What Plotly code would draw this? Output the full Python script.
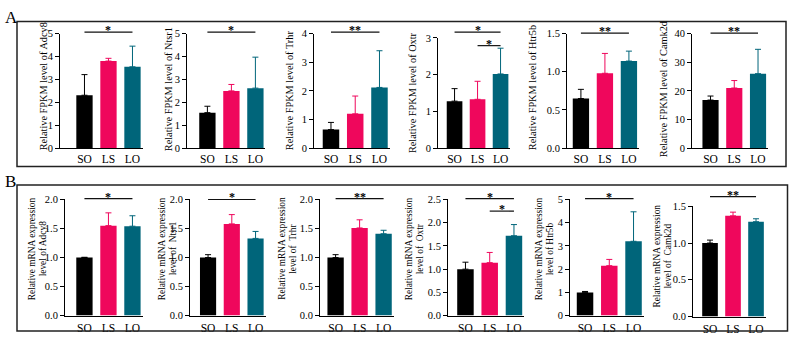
import plotly.graph_objects as go

W, H = 789, 340

categories = ["SO", "LS", "LO"]
genes = ["Adcy8", "Ntsr1", "Trhr", "Oxtr", "Htr5b", "Camk2d"]

# Panel A: relative FPKM (mean, upper SD)
fpkm_adcy8 = [2.31, 3.80, 3.55]
fpkm_adcy8_err = [0.90, 0.12, 0.90]
fpkm_ntsr1 = [1.55, 2.50, 2.62]
fpkm_ntsr1_err = [0.28, 0.28, 1.35]
fpkm_trhr = [0.65, 1.20, 2.12]
fpkm_trhr_err = [0.25, 0.62, 1.28]
fpkm_oxtr = [1.28, 1.33, 2.02]
fpkm_oxtr_err = [0.34, 0.49, 0.70]
fpkm_htr5b = [0.65, 0.98, 1.14]
fpkm_htr5b_err = [0.12, 0.26, 0.13]
fpkm_camk2d = [16.8, 21.0, 26.0]
fpkm_camk2d_err = [1.4, 2.6, 8.5]

# Panel B: relative mRNA expression (mean, upper SD)
mrna_adcy8 = [1.00, 1.55, 1.54]
mrna_adcy8_err = [0.005, 0.22, 0.18]
mrna_ntsr1 = [1.00, 1.58, 1.33]
mrna_ntsr1_err = [0.05, 0.16, 0.12]
mrna_trhr = [1.00, 1.51, 1.41]
mrna_trhr_err = [0.05, 0.14, 0.06]
mrna_oxtr = [1.00, 1.14, 1.72]
mrna_oxtr_err = [0.15, 0.22, 0.24]
mrna_htr5b = [1.00, 2.15, 3.20]
mrna_htr5b_err = [0.04, 0.27, 1.27]
mrna_camk2d = [1.00, 1.37, 1.29]
mrna_camk2d_err = [0.04, 0.05, 0.04]

# significance: (from index, to index, label)
sig_a = [[(0, 2, "*")], [(0, 2, "*")], [(0, 2, "**")],
         [(0, 2, "*"), (1, 2, "*")], [(0, 2, "**")], [(0, 2, "**")]]
sig_b = [[(0, 2, "*")], [(0, 2, "*")], [(0, 2, "**")],
         [(0, 2, "*"), (1, 2, "*")], [(0, 2, "*")], [(0, 2, "**")]]

a_means = [fpkm_adcy8, fpkm_ntsr1, fpkm_trhr, fpkm_oxtr, fpkm_htr5b, fpkm_camk2d]
a_errs = [fpkm_adcy8_err, fpkm_ntsr1_err, fpkm_trhr_err, fpkm_oxtr_err, fpkm_htr5b_err, fpkm_camk2d_err]
b_means = [mrna_adcy8, mrna_ntsr1, mrna_trhr, mrna_oxtr, mrna_htr5b, mrna_camk2d]
b_errs = [mrna_adcy8_err, mrna_ntsr1_err, mrna_trhr_err, mrna_oxtr_err, mrna_htr5b_err, mrna_camk2d_err]

a_yrange = [(5, 1, "d"), (5, 1, "d"), (4, 1, "d"), (3, 1, "d"), (1.5, 0.5, ".1f"), (40, 10, "d")]
b_yrange = [(2, 0.5, ".1f"), (2, 0.5, ".1f"), (2, 0.5, ".1f"), (2.5, 0.5, ".1f"), (5, 1, "d"), (1.5, 0.5, ".1f")]

colors = ["#000000", "#EF075C", "#00657A"]
FONT = "Liberation Serif, Times New Roman, serif"

# layout geometry in pixels: (axis x, range start, pitch)
a_x = [(60, -1.02, 24), (187, -0.85, 24), (314, -0.70, 24.25),
       (438, -0.72, 23), (567, -0.58, 24), (692, -0.78, 23.75)]
b_x = [(65, -0.81, 24), (190, -0.76, 23.75), (320, -0.65, 24),
       (448, -0.72, 24.25), (570, -0.62, 24.25), (693, -0.74, 23)]
a_y = [(148, 29.5)] * 3 + [(148, 34)] + [(148, 29.5)] * 2
b_y = [(321, 201)] * 5 + [(322, 208)]
a_sig_px = [[28], [28], [28], [28, 42], [29], [29]]
b_sig_px = [[200], [201], [200], [200, 213], [200], [198]]
a_title_x = [43, 168, 289, 412, 532, 663]
a_title_y = [84, 87, 88, 90, 86, 87]
b_title_x = [37, 167, 287.5, 414, 544, 662.5]
b_title_y = [252, 252, 252, 252, 252, 260]
b_gene_txt = ["Adcy8", "\u00a0Ntsr1", "\u00a0Trhr", "\u00a0Oxtr", "Htr5b", "\u00a0Camk2d"]
BAR_W = 0.68
X_END = 2.42

fig = go.Figure()
layout = dict(width=W, height=H, margin=dict(l=0, r=0, t=0, b=0),
              paper_bgcolor="white", plot_bgcolor="white", showlegend=False,
              barmode="overlay", font=dict(family=FONT, color="black", size=11))
shapes = []
annotations = []

def fx(px):
    return px / W

def fy(py):
    return 1 - py / H

panels = []
for i in range(6):
    panels.append(("A", i, a_means[i], a_errs[i], a_yrange[i], a_x[i], a_y[i], sig_a[i], a_sig_px[i]))
for i in range(6):
    panels.append(("B", i, b_means[i], b_errs[i], b_yrange[i], b_x[i], b_y[i], sig_b[i], b_sig_px[i]))

for k, (row, i, means, errs, yr, xg, yg, sigs, sigpx) in enumerate(panels):
    n = k + 1
    xa = "x" if n == 1 else f"x{n}"
    ya = "y" if n == 1 else f"y{n}"
    for j in range(3):
        fig.add_trace(go.Bar(
            x=[j], y=[means[j]], width=BAR_W, xaxis=xa, yaxis=ya,
            marker=dict(color=colors[j], line=dict(width=0)),
            error_y=dict(type="data", array=[errs[j]], arrayminus=[0], symmetric=False,
                         color=colors[j], thickness=1, width=3),
        ))
    axpx, start, pitch = xg
    x0 = fx(axpx)
    x1 = fx(axpx + (X_END - start) * pitch)
    ybot, ytop = yg
    yd = [fy(ybot), fy(ytop)]
    ymax, dt, fmt = yr
    key_x = "xaxis" if n == 1 else f"xaxis{n}"
    key_y = "yaxis" if n == 1 else f"yaxis{n}"
    layout[key_x] = dict(domain=[x0, x1], anchor=ya, range=[start, X_END],
                         tickmode="array", tickvals=[0, 1, 2], ticktext=categories,
                         showline=True, linecolor="black", linewidth=1, ticks="",
                         showgrid=False, zeroline=False,
                         ticklabelstandoff=(2 if row == "B" else 0),
                         tickfont=dict(family=FONT, size=11.5, color="black"))
    layout[key_y] = dict(domain=yd, anchor=xa, range=[0, ymax], dtick=dt, tick0=0,
                         tickformat=fmt, showline=True, linecolor="black", linewidth=1,
                         ticks="outside", ticklen=4, tickwidth=1, tickcolor="black",
                         showgrid=False, zeroline=False,
                         tickfont=dict(family=FONT, size=10.5, color="black"))
    # significance brackets
    for (a, b, lab), lpx in zip(sigs, sigpx):
        yfrac = (ybot - lpx) / (ybot - ytop)
        shapes.append(dict(type="line", xref=xa, yref=f"{ya} domain",
                           x0=a, x1=b, y0=yfrac, y1=yfrac,
                           line=dict(color="#111111", width=1.2)))
        annotations.append(dict(text=f"<b>{lab}</b>", xref=xa, yref=f"{ya} domain",
                                x=(a + b) / 2, y=yfrac, showarrow=False,
                                xanchor="center", yanchor="bottom", yshift=-7,
                                font=dict(family=FONT, size=12, color="black")))
    # y titles
    if row == "A":
        annotations.append(dict(text=f"Relative FPKM level of {genes[i]}", xref="paper", yref="paper",
                                x=fx(a_title_x[i]), y=fy(a_title_y[i]), textangle=-90,
                                showarrow=False, xanchor="center", yanchor="middle",
                                font=dict(family=FONT, size=10.3, color="black")))
    else:
        cx = b_title_x[i]
        annotations.append(dict(text="Relative mRNA expression", xref="paper", yref="paper",
                                x=fx(cx - 5.5), y=fy(b_title_y[i]), textangle=-90,
                                showarrow=False, xanchor="center", yanchor="middle",
                                font=dict(family=FONT, size=9.4, color="black")))
        annotations.append(dict(text=f"level of {b_gene_txt[i]}", xref="paper", yref="paper",
                                x=fx(cx + 5.5), y=fy(b_title_y[i]), textangle=-90,
                                showarrow=False, xanchor="center", yanchor="middle",
                                font=dict(family=FONT, size=9.4, color="black")))

# panel frames
shapes.append(dict(type="rect", xref="paper", yref="paper", x0=fx(17), x1=fx(786),
                   y0=fy(167), y1=fy(17), line=dict(color="#222222", width=1.5)))
shapes.append(dict(type="rect", xref="paper", yref="paper", x0=fx(17), x1=fx(787.5),
                   y0=fy(337), y1=fy(186), line=dict(color="#222222", width=1.5)))
annotations.append(dict(text="A", xref="paper", yref="paper", x=fx(3), y=fy(1),
                        xanchor="left", yanchor="top", showarrow=False,
                        font=dict(family=FONT, size=17, color="black")))
annotations.append(dict(text="B", xref="paper", yref="paper", x=fx(3), y=fy(170),
                        xanchor="left", yanchor="top", showarrow=False,
                        font=dict(family=FONT, size=17, color="black")))

layout["shapes"] = shapes
layout["annotations"] = annotations
fig.update_layout(**layout)
fig.write_html("out.html", config={"displayModeBar": False},
               post_script="document.body.style.margin='0';document.body.style.padding='0';document.body.style.overflow='hidden';")
